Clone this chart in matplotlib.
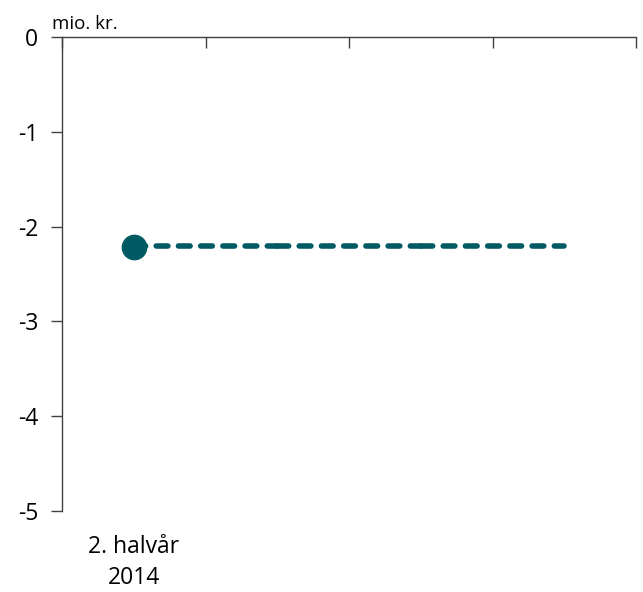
import numpy as np
import matplotlib
matplotlib.use("Agg")
import matplotlib.pyplot as plt

# data
categories = ["2. halvår\n2014", "", "", ""]
actual = [-2.22, None, None, None]
average = [-2.20, -2.20, -2.20, -2.20]
yticks = [0, -1, -2, -3, -4, -5]
unit = "mio. kr."
color = "#005a64"

plt.rcParams['font.family'] = ['Open Sans', 'DejaVu Sans']

fig = plt.figure(figsize=(6.43, 5.92), dpi=100)
ax = fig.add_axes([62/643, 1-511/592, (636-62)/643, (511-37)/592])

x = np.arange(len(categories))

# dashed average line, drawn per category interval
for i in range(len(x) - 1):
    ax.plot(x[i:i+2], average[i:i+2], color=color, lw=4,
            dashes=(2.1, 1.9), dash_capstyle='round', solid_capstyle='round')

xs = [xi for xi, v in zip(x, actual) if v is not None]
vs = [v for v in actual if v is not None]
ax.plot(xs, vs, 'o', color=color, markersize=17.5, zorder=5)

ax.set_xlim(-0.5, len(categories) - 0.5)
ax.set_ylim(-5, 0)
ax.set_yticks(yticks)
ax.set_yticklabels([str(t) for t in yticks])

ax.set_xticks(x)
ax.set_xticklabels(categories, fontsize=16.5, linespacing=1.35)
ax.set_xticks(np.arange(len(categories) + 1) - 0.5, minor=True)
ax.tick_params(axis='x', which='major', bottom=False, top=False,
               labelbottom=True, pad=14)
ax.tick_params(axis='x', which='minor', bottom=False, top=True,
               direction='in', length=8, width=1, color='#404040')
ax.tick_params(axis='y', direction='out', length=8, width=1,
               color='#404040', labelsize=16.5, pad=9)

for s in ['right', 'bottom']:
    ax.spines[s].set_visible(False)
for s in ['left', 'top']:
    ax.spines[s].set_color('#404040')
    ax.spines[s].set_linewidth(1)

fig.text(52/643, 1-29/592, unit, fontsize=13.5, va='baseline', ha='left')

fig.savefig("out.png", dpi=100)
